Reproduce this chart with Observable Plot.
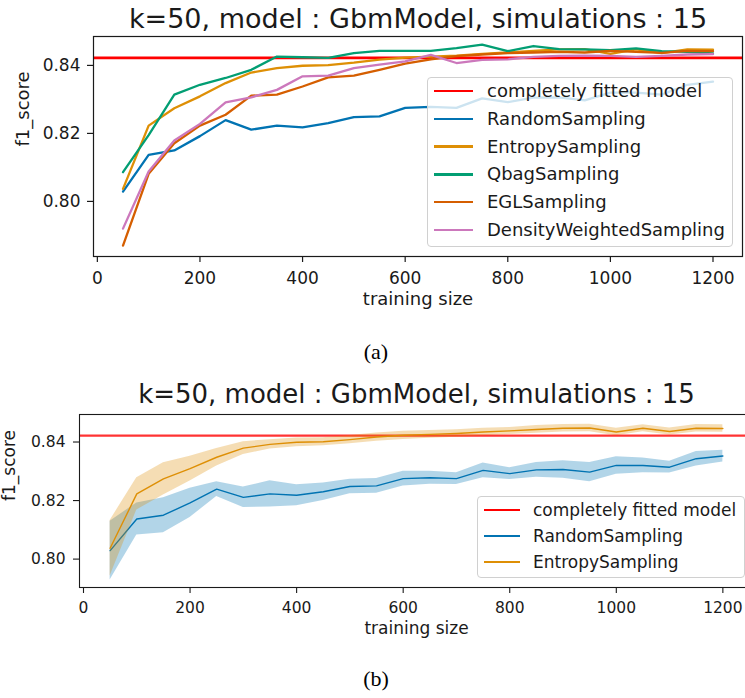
<!DOCTYPE html>
<html>
<head>
<meta charset="utf-8">
<script src="https://cdn.jsdelivr.net/npm/d3@7"></script>
<script src="https://cdn.jsdelivr.net/npm/@observablehq/plot@0.6"></script>
<style>
  html, body { margin: 0; padding: 0; background: #fff; }
  body { width: 745px; height: 698px; overflow: hidden; position: relative; font-family: "DejaVu Sans", sans-serif; color: #1a1a1a; }
  .chart { position: absolute; left: 0; }
  .chart svg { max-width: none !important; }
  .legend { position: absolute; box-sizing: border-box; border: 1px solid #d0d0d0; border-radius: 4px; background: rgba(255,255,255,0.8); }
  .row { position: absolute; left: 0; right: 0; height: 24px; }
  .sw { position: absolute; top: 50%; }
  .lab { position: absolute; top: 0; line-height: 24px; white-space: nowrap; color: #1a1a1a; }
  .cap { position: absolute; width: 60px; text-align: center; font-family: "Liberation Serif", "Times New Roman", serif; font-size: 22px; color: #000; }
</style>
</head>
<body>
<div id="chartA" class="chart" style="top:0px"></div>
<div id="legA" class="legend" style="left:427px; top:77px; width:306px; height:170px"></div>
<div class="cap" style="left:346px; top:339px">(a)</div>
<div id="chartB" class="chart" style="top:360px"></div>
<div id="legB" class="legend" style="left:477px; top:496px; width:268px; height:82px"></div>
<div class="cap" style="left:346px; top:666px">(b)</div>
<script>
// ---------- data ----------
const title = "k=50, model : GbmModel, simulations : 15";
const trainingSize = [50,100,150,200,250,300,350,400,450,500,550,600,650,700,750,800,850,900,950,1000,1050,1100,1150,1200];
const fittedScore = 0.8422;

const randomSampling = [0.8029,0.8137,0.8150,0.8192,0.8239,0.8211,0.8223,0.8218,0.8230,0.8248,0.8250,0.8275,0.8278,0.8275,0.8303,0.8292,0.8305,0.8306,0.8297,0.8320,0.8320,0.8314,0.8343,0.8352];
const entropySampling = [0.8037,0.8223,0.8274,0.8309,0.8348,0.8379,0.8392,0.8399,0.8401,0.8408,0.8417,0.8423,0.8426,0.8429,0.8434,0.8438,0.8443,0.8447,0.8448,0.8434,0.8447,0.8436,0.8447,0.8446];
const qbagSampling = [0.8086,0.8195,0.8314,0.8343,0.8363,0.8387,0.8426,0.8424,0.8422,0.8436,0.8443,0.8443,0.8443,0.8451,0.8461,0.8442,0.8457,0.8448,0.8447,0.8445,0.8450,0.8442,0.8440,0.8435];
const eglSampling = [0.7870,0.8081,0.8171,0.8223,0.8255,0.8311,0.8314,0.8338,0.8365,0.8370,0.8387,0.8405,0.8418,0.8427,0.8432,0.8436,0.8438,0.8440,0.8438,0.8443,0.8440,0.8437,0.8443,0.8442];
const densitySampling = [0.7920,0.8088,0.8179,0.8228,0.8291,0.8306,0.8328,0.8368,0.8370,0.8392,0.8402,0.8412,0.8431,0.8407,0.8416,0.8418,0.8425,0.8428,0.8429,0.8428,0.8425,0.8428,0.8432,0.8433];

// half-width of the shaded band in panel (b)
const randomBand = [0.0100,0.0055,0.0060,0.0050,0.0025,0.0035,0.0045,0.0036,0.0030,0.0025,0.0025,0.0025,0.0022,0.0020,0.0025,0.0020,0.0025,0.0030,0.0033,0.0030,0.0025,0.0020,0.0025,0.0020];
const entropyBand = [0.0095,0.0055,0.0055,0.0042,0.0030,0.0022,0.0016,0.0015,0.0014,0.0014,0.0014,0.0014,0.0013,0.0013,0.0013,0.0012,0.0013,0.0013,0.0013,0.0013,0.0012,0.0012,0.0013,0.0013];

const xTicks = [0,200,400,600,800,1000,1200];
const yTicks = [0.80,0.82,0.84];

const seriesNames = ["RandomSampling","EntropySampling","QbagSampling","EGLSampling","DensityWeightedSampling"];
const seriesValues = [randomSampling, entropySampling, qbagSampling, eglSampling, densitySampling];
const seriesColors = ["#0173b2","#de8f05","#029e73","#d55e00","#cc78bc"];
const fittedName = "completely fitted model";
const fittedColor = "#ff0000";

// ---------- tables ----------
const table = (vals) => trainingSize.map((x, i) => ({x, y: vals[i]}));
const bandTable = (vals, hw) => trainingSize.map((x, i) => ({x, lo: vals[i] - hw[i], hi: vals[i] + hw[i], y: vals[i]}));

const font = "DejaVu Sans, sans-serif";

// ---------- chart (a) ----------
const chartA = Plot.plot({
  width: 745, height: 320,
  marginTop: 36, marginLeft: 93, marginRight: 3, marginBottom: 64,
  style: {fontFamily: font, background: "transparent", color: "#1a1a1a", overflow: "visible", maxWidth: "none"},
  x: {domain: [-7.5, 1257.5]},
  y: {domain: [0.7838, 0.8485]},
  marks: [
    Plot.ruleY([fittedScore], {stroke: fittedColor, strokeWidth: 2.6}),
    ...seriesValues.map((vals, i) => Plot.line(table(vals), {x: "x", y: "y", stroke: seriesColors[i], strokeWidth: 2.3})),
    Plot.frame({stroke: "#1a1a1a", strokeWidth: 1.2}),
    Plot.axisX({ticks: xTicks, tickSize: 6, tickPadding: 9, fontSize: 17, label: null, tickFormat: d => String(d), strokeWidth: 1.2}),
    Plot.axisY({ticks: yTicks, tickSize: 6, tickPadding: 7, fontSize: 17, label: null, tickFormat: d3.format(".2f"), strokeWidth: 1.2}),
    Plot.text([title], {text: d => d, frameAnchor: "top", lineAnchor: "bottom", dy: -9, fontSize: 27, fill: "#1a1a1a"}),
    Plot.text(["training size"], {text: d => d, frameAnchor: "bottom", dy: 48, fontSize: 18, fill: "#1a1a1a"}),
    Plot.text(["f1_score"], {text: d => d, frameAnchor: "left", dx: -70, rotate: -90, fontSize: 18, fill: "#1a1a1a"})
  ]
});
document.getElementById("chartA").appendChild(chartA);

// ---------- chart (b) ----------
const bandColors = [seriesColors[0], seriesColors[1]];
const chartB = Plot.plot({
  width: 760, height: 290,
  marginTop: 54, marginLeft: 79, marginRight: 7, marginBottom: 63,
  style: {fontFamily: font, background: "transparent", color: "#1a1a1a", overflow: "visible", maxWidth: "none"},
  x: {domain: [-7.5, 1257.5]},
  y: {domain: [0.7903, 0.8494]},
  marks: [
    Plot.ruleY([fittedScore], {stroke: fittedColor, strokeWidth: 2.4, strokeOpacity: 0.8}),
    Plot.areaY(bandTable(randomSampling, randomBand), {x: "x", y1: "lo", y2: "hi", fill: bandColors[0], fillOpacity: 0.3}),
    Plot.line(table(randomSampling), {x: "x", y: "y", stroke: bandColors[0], strokeWidth: 1.4}),
    Plot.areaY(bandTable(entropySampling, entropyBand), {x: "x", y1: "lo", y2: "hi", fill: bandColors[1], fillOpacity: 0.3}),
    Plot.line(table(entropySampling), {x: "x", y: "y", stroke: bandColors[1], strokeWidth: 1.4}),
    Plot.frame({stroke: "#1a1a1a", strokeWidth: 1.1}),
    Plot.axisX({ticks: xTicks, tickSize: 6, tickPadding: 8, fontSize: 15.5, label: null, tickFormat: d => String(d), strokeWidth: 1.1}),
    Plot.axisY({ticks: yTicks, tickSize: 6, tickPadding: 8, fontSize: 15.5, label: null, tickFormat: d3.format(".2f"), strokeWidth: 1.1}),
    Plot.text([title], {text: d => d, frameAnchor: "top", lineAnchor: "bottom", dy: -12, fontSize: 26, fill: "#1a1a1a"}),
    Plot.text(["training size"], {text: d => d, frameAnchor: "bottom", dy: 46, fontSize: 17, fill: "#1a1a1a"}),
    Plot.text(["f1_score"], {text: d => d, frameAnchor: "left", dx: -70, rotate: -90, fontSize: 17, fill: "#1a1a1a"})
  ]
});
document.getElementById("chartB").appendChild(chartB);

// ---------- legends ----------
function buildLegend(el, names, colors, widths, opts) {
  names.forEach((name, i) => {
    const row = document.createElement("div");
    row.className = "row";
    row.style.top = (opts.first + i * opts.step - 12) + "px";
    const sw = document.createElement("div");
    sw.className = "sw";
    sw.style.left = opts.swLeft + "px";
    sw.style.width = opts.swWidth + "px";
    sw.style.height = widths[i] + "px";
    sw.style.marginTop = (-widths[i] / 2) + "px";
    sw.style.background = colors[i];
    const lab = document.createElement("div");
    lab.className = "lab";
    lab.style.left = opts.textLeft + "px";
    lab.style.fontSize = opts.fontSize + "px";
    lab.textContent = name;
    row.appendChild(sw);
    row.appendChild(lab);
    el.appendChild(row);
  });
}
buildLegend(document.getElementById("legA"),
  [fittedName, ...seriesNames], [fittedColor, ...seriesColors], [2.8, 2.4, 2.4, 2.4, 2.4, 2.4],
  {first: 13, step: 27.8, swLeft: 6, swWidth: 39, textLeft: 59, fontSize: 18});
buildLegend(document.getElementById("legB"),
  [fittedName, seriesNames[0], seriesNames[1]], [fittedColor, seriesColors[0], seriesColors[1]], [2.8, 1.6, 1.6],
  {first: 13, step: 26, swLeft: 6, swWidth: 36, textLeft: 55, fontSize: 17});
</script>
</body>
</html>
